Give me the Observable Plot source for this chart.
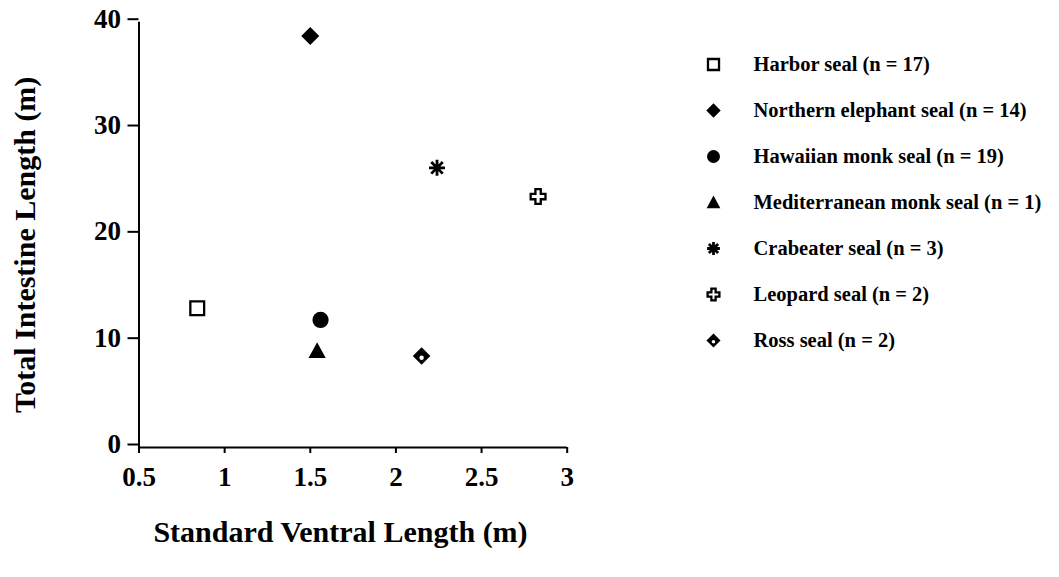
<!DOCTYPE html>
<html>
<head>
<meta charset="utf-8">
<script src="https://cdn.jsdelivr.net/npm/d3@7"></script>
<script src="https://cdn.jsdelivr.net/npm/@observablehq/plot@0.6"></script>
<style>
  html, body { margin: 0; padding: 0; background: #fff; }
  #wrap { position: relative; width: 1059px; height: 577px; overflow: hidden; background: #fff; }
  #chart, #legend { position: absolute; top: 0; }
  #chart { left: 0; }
  #legend { left: 640px; }
</style>
</head>
<body>
<div id="wrap"><div id="chart"></div><div id="legend"></div></div>
<script>
// ---- data ----
const species = ["Harbor seal", "Northern elephant seal", "Hawaiian monk seal", "Mediterranean monk seal", "Crabeater seal", "Leopard seal", "Ross seal"];
const sampleSizes = [17, 14, 19, 1, 3, 2, 2];
const ventralLength = [0.84, 1.50, 1.56, 1.54, 2.24, 2.83, 2.15];   // Standard Ventral Length (m)
const intestineLength = [13.1, 38.7, 12.0, 9.1, 26.3, 23.6, 8.6];   // Total Intestine Length (m)
const xTicks = [0.5, 1, 1.5, 2, 2.5, 3];
const yTicks = [0, 10, 20, 30, 40];
const xTitle = "Standard Ventral Length (m)";
const yTitle = "Total Intestine Length (m)";

const rows = species.map((s, i) => ({species: s, n: sampleSizes[i], x: ventralLength[i], y: intestineLength[i], label: `${s} (n = ${sampleSizes[i]})`}));

// ---- custom symbols (size = PI r^2) ----
const rad = (size) => Math.sqrt(size / Math.PI);
const symSquare = {draw(c, size) { const r = rad(size); c.rect(-r, -r, 2 * r, 2 * r); }};
const symDiamond = {draw(c, size) { const r = rad(size); c.moveTo(0, -r); c.lineTo(r, 0); c.lineTo(0, r); c.lineTo(-r, 0); c.closePath(); }};
const symCircle = {draw(c, size) { const r = rad(size); c.moveTo(r, 0); c.arc(0, 0, r, 0, 2 * Math.PI); c.closePath(); }};
const symTriangle = {draw(c, size) { const r = rad(size); c.moveTo(0, -r); c.lineTo(r, 0.85 * r); c.lineTo(-r, 0.85 * r); c.closePath(); }};
const symAsterisk = {draw(c, size) {
  const r = rad(size), d = r * 0.72;
  c.moveTo(0, -r); c.lineTo(0, r);
  c.moveTo(-r, 0); c.lineTo(r, 0);
  c.moveTo(-d, -d); c.lineTo(d, d);
  c.moveTo(-d, d); c.lineTo(d, -d);
}};
const symCross = {draw(c, size) {
  const r = rad(size), a = 0.36 * r;
  const p = [[-a,-r],[a,-r],[a,-a],[r,-a],[r,a],[a,a],[a,r],[-a,r],[-a,a],[-r,a],[-r,-a],[-a,-a]];
  c.moveTo(p[0][0], p[0][1]); for (let k = 1; k < p.length; k++) c.lineTo(p[k][0], p[k][1]); c.closePath();
}};

// symbol styling per species (same order as species)
const symbolStyles = [
  {symbol: symSquare, fill: "white", stroke: "black", strokeWidth: 2.3, r: 6.9},
  {symbol: symDiamond, fill: "black", stroke: "none", r: 9.0},
  {symbol: symCircle, fill: "black", stroke: "none", r: 8.1},
  {symbol: symTriangle, fill: "black", stroke: "none", r: 8.6},
  {symbol: symAsterisk, fill: "none", stroke: "black", strokeWidth: 2.8, r: 8.0},
  {symbol: symCross, fill: "white", stroke: "black", strokeWidth: 2.3, r: 7.4},
  {symbol: symDiamond, fill: "black", stroke: "none", r: 8.8}
];
const spotIndex = species.indexOf("Ross seal");

function symbolMarks(data, xAcc, yAcc, scale) {
  const marks = [];
  data.forEach((d, i) => {
    const st = symbolStyles[i];
    marks.push(Plot.dot([d], {x: xAcc, y: yAcc, symbol: st.symbol, fill: st.fill, stroke: st.stroke, strokeWidth: st.strokeWidth || 1, r: st.r * scale}));
  });
  // white spot inside the Ross seal diamond
  marks.push(Plot.dot([data[spotIndex]], {x: xAcc, y: yAcc, symbol: "circle", fill: "white", stroke: "none", r: 2.2 * scale, dy: 1.7 * scale}));
  return marks;
}

const font = "'Liberation Serif', 'Times New Roman', serif";

// ---- main chart ----
const chart = Plot.plot({
  width: 640,
  height: 577,
  marginLeft: 138.5,
  marginRight: 73.3,
  marginTop: 21.7,
  marginBottom: 130,
  style: {fontFamily: font, fontWeight: "bold", background: "white", color: "black", overflow: "visible"},
  x: {domain: [0.5, 3]},
  y: {domain: [0, 40]},
  marks: [
    Plot.axisX({ticks: xTicks, tickFormat: (d) => String(d), tickSize: 6, tickPadding: 13, strokeWidth: 2, fontSize: 27, label: null}),
    Plot.axisY({ticks: yTicks, tickFormat: (d) => String(d), tickSize: 11, tickPadding: 7, strokeWidth: 2, fontSize: 27, dy: -3, label: null}),
    Plot.ruleX([0.5], {stroke: "black", strokeWidth: 2}),
    Plot.ruleY([0], {stroke: "black", strokeWidth: 2}),
    ...symbolMarks(rows, "x", "y", 1),
    Plot.text([xTitle], {frameAnchor: "bottom", text: (d) => d, fontSize: 30, fontWeight: "bold", textAnchor: "middle", dx: -12.6, dy: 85, lineAnchor: "middle"}),
    Plot.text([yTitle], {frameAnchor: "left", text: (d) => d, fontSize: 30, fontWeight: "bold", textAnchor: "middle", rotate: -90, dx: -114, dy: 10, lineAnchor: "middle"})
  ]
});
document.getElementById("chart").appendChild(chart);

// ---- legend ----
const legend = Plot.plot({
  width: 419,
  height: 577,
  margin: 0,
  style: {fontFamily: font, fontWeight: "bold", background: "transparent", color: "black"},
  x: {domain: [0, 1], range: [73, 113], axis: null},
  y: {type: "point", domain: species, range: [63, 341], padding: 0, axis: null},
  marks: [
    ...symbolMarks(rows, () => 0, "species", 0.8),
    Plot.text(rows, {x: () => 1, y: "species", text: "label", textAnchor: "start", lineAnchor: "middle", fontSize: 20.5, fontWeight: "bold"})
  ]
});
document.getElementById("legend").appendChild(legend);
</script>
</body>
</html>
